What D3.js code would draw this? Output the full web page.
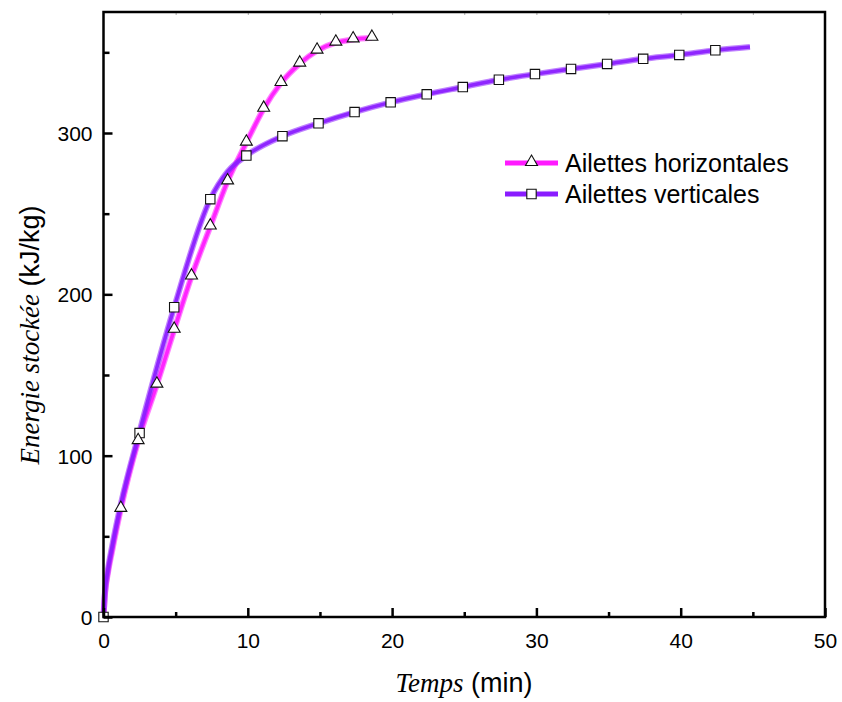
<!DOCTYPE html>
<html>
<head>
<meta charset="utf-8">
<script src="https://cdn.jsdelivr.net/npm/d3@7"></script>
<style>
  body { margin: 0; background: #fff; }
  text { font-family: Arial, "Liberation Sans", sans-serif; }
</style>
</head>
<body>
<div id="chart"></div>
<script>
// --- data ---
var seriesNames = ["Ailettes horizontales", "Ailettes verticales"];
var seriesColors = ["#ff1aff", "#8a1cff"];

// horizontal fins: curve and markers
var horizCurveX = [0, 0.1, 0.3, 0.6, 1.2, 2.4, 3.7, 4.9, 6.1, 7.4, 8.6, 9.9, 11.1, 12.3, 13.6, 14.8, 16.1, 17.3, 18.6];
var horizCurveY = [0, 14, 27, 41, 67, 109, 144, 178, 211, 242, 270, 294, 315, 331, 343, 351, 356, 358, 359];
var horizMarkX = [1.2, 2.4, 3.7, 4.9, 6.1, 7.4, 8.6, 9.9, 11.1, 12.3, 13.6, 14.8, 16.1, 17.3, 18.6];
var horizMarkY = [67, 109, 144, 178, 211, 242, 270, 294, 315, 331, 343, 351, 356, 358, 359];

// vertical fins: curve and markers
var vertCurveX = [0, 0.1, 0.3, 0.6, 1.2, 2.5, 4.9, 7.4, 8.6, 9.9, 12.4, 14.9, 17.4, 19.9, 22.4, 24.9, 27.4, 29.9, 32.4, 34.9, 37.4, 39.9, 42.4, 44.8];
var vertCurveY = [0, 15, 29, 44, 70, 115, 192, 259, 276, 286, 298, 306, 313, 319, 324, 328.5, 333, 336.5, 339.7, 342.8, 346, 348.4, 351.3, 353.3];
var vertMarkX = [0, 2.5, 4.9, 7.4, 9.9, 12.4, 14.9, 17.4, 19.9, 22.4, 24.9, 27.4, 29.9, 32.4, 34.9, 37.4, 39.9, 42.4];
var vertMarkY = [0, 114, 192, 259, 286, 298, 306, 313, 319, 324, 328.5, 333, 336.5, 339.7, 342.8, 346, 348.4, 351.3];

var xTicks = [0, 10, 20, 30, 40, 50];
var yTicks = [0, 100, 200, 300];

// --- layout ---
var width = 842, height = 702;
var margin = {top: 12, right: 17, bottom: 85, left: 103.5};
var plotW = width - margin.left - margin.right;
var plotH = height - margin.top - margin.bottom;

var svg = d3.select("#chart").append("svg")
    .attr("width", width)
    .attr("height", height);

var g = svg.append("g")
    .attr("transform", "translate(" + margin.left + "," + margin.top + ")");

var xScale = d3.scaleLinear().domain([0, 50]).range([0, plotW]);
var yScale = d3.scaleLinear().domain([0, 375]).range([plotH, 0]);

function zip(xs, ys) {
    return xs.map(function(x, i) { return [x, ys[i]]; });
}

var line = d3.line()
    .x(function(d) { return xScale(d[0]); })
    .y(function(d) { return yScale(d[1]); })
    .curve(d3.curveMonotoneX);

// curves (pink first, purple over it)
var curves = [zip(horizCurveX, horizCurveY), zip(vertCurveX, vertCurveY)];
[0, 1].forEach(function(k) {
    g.append("path")
        .attr("d", line(curves[k]))
        .attr("fill", "none")
        .attr("stroke", seriesColors[k])
        .attr("stroke-opacity", 0.55)
        .attr("stroke-width", 6);
    g.append("path")
        .attr("d", line(curves[k]))
        .attr("fill", "none")
        .attr("stroke", seriesColors[k])
        .attr("stroke-opacity", 0.9)
        .attr("stroke-width", 3.5);
});

var triangle = d3.symbol().type(d3.symbolTriangle).size(62);
var square = d3.symbol().type(d3.symbolSquare).size(88);

g.selectAll(".sq")
    .data(zip(vertMarkX, vertMarkY))
    .enter().append("path")
    .attr("class", "sq")
    .attr("d", square)
    .attr("transform", function(d) { return "translate(" + xScale(d[0]) + "," + yScale(d[1]) + ")"; })
    .attr("fill", "#fff")
    .attr("stroke", "#111")
    .attr("stroke-width", 1.1);

g.selectAll(".tri")
    .data(zip(horizMarkX, horizMarkY))
    .enter().append("path")
    .attr("class", "tri")
    .attr("d", triangle)
    .attr("transform", function(d) { return "translate(" + xScale(d[0]) + "," + (yScale(d[1]) - 1) + ")"; })
    .attr("fill", "#fff")
    .attr("stroke", "#111")
    .attr("stroke-width", 1.1);

// axes (ticks inside)
var xAxis = d3.axisBottom(xScale).tickValues(d3.range(0, 51, 5))
    .tickSize(-8).tickPadding(16)
    .tickFormat(function(d) { return xTicks.indexOf(d) >= 0 ? d : ""; });
var gx = g.append("g").attr("transform", "translate(0," + plotH + ")").call(xAxis);
gx.selectAll(".tick line").attr("y2", function(d) { return xTicks.indexOf(d) >= 0 ? -9 : -5; });

var yAxis = d3.axisLeft(yScale).tickValues(d3.range(0, 351, 50))
    .tickSize(-8).tickPadding(11)
    .tickFormat(function(d) { return yTicks.indexOf(d) >= 0 ? d : ""; });
var gy = g.append("g").call(yAxis);
gy.selectAll(".tick line").attr("x2", function(d) { return yTicks.indexOf(d) >= 0 ? 9 : 6; });

[gx, gy].forEach(function(a) {
    a.select(".domain").remove();
    a.selectAll(".tick line").attr("stroke", "#000").attr("stroke-width", 2.5);
    a.selectAll(".tick text").attr("font-size", "21px").attr("fill", "#000")
        .attr("font-family", "Arial, 'Liberation Sans', sans-serif");
});
gy.selectAll(".tick text").attr("dy", "0.36em");

// faint top ticks
g.append("g").call(d3.axisTop(xScale).tickValues(d3.range(5, 50, 5)).tickSize(-3).tickFormat(""))
    .call(function(a) {
        a.select(".domain").remove();
        a.selectAll(".tick line").attr("stroke", "#aaa").attr("stroke-width", 1);
    });

// frame
g.append("rect")
    .attr("width", plotW).attr("height", plotH)
    .attr("fill", "none").attr("stroke", "#000").attr("stroke-width", 2.5);

// axis titles
var xt = svg.append("text")
    .attr("x", 464)
    .attr("y", 692)
    .attr("text-anchor", "middle")
    .attr("font-size", "27px");
xt.append("tspan").attr("font-family", "'Liberation Serif', 'Times New Roman', serif")
    .attr("font-style", "italic").text("Temps");
xt.append("tspan").text(" (min)");

var yt = svg.append("text")
    .attr("transform", "translate(39,335) rotate(-90)")
    .attr("text-anchor", "middle")
    .attr("font-size", "27px");
yt.append("tspan").attr("font-family", "'Liberation Serif', 'Times New Roman', serif")
    .attr("font-style", "italic").text("Energie stockée");
yt.append("tspan").text(" (kJ/kg)");

// legend
var legend = svg.append("g").attr("transform", "translate(505,163)");
var legSyms = [triangle, square];
seriesNames.forEach(function(name, i) {
    var row = legend.append("g").attr("transform", "translate(0," + (i * 31) + ")");
    row.append("line")
        .attr("x1", 0).attr("x2", 53).attr("y1", 0).attr("y2", 0)
        .attr("stroke", seriesColors[i]).attr("stroke-width", 5);
    row.append("path")
        .attr("d", legSyms[i])
        .attr("transform", "translate(26.5," + (i === 0 ? -1 : 0) + ")")
        .attr("fill", "#fff").attr("stroke", "#111").attr("stroke-width", 1.1);
    row.append("text")
        .attr("x", 60).attr("y", 0).attr("dy", "0.36em")
        .attr("font-size", "25px").attr("fill", "#000")
        .text(name);
});
</script>
</body>
</html>
